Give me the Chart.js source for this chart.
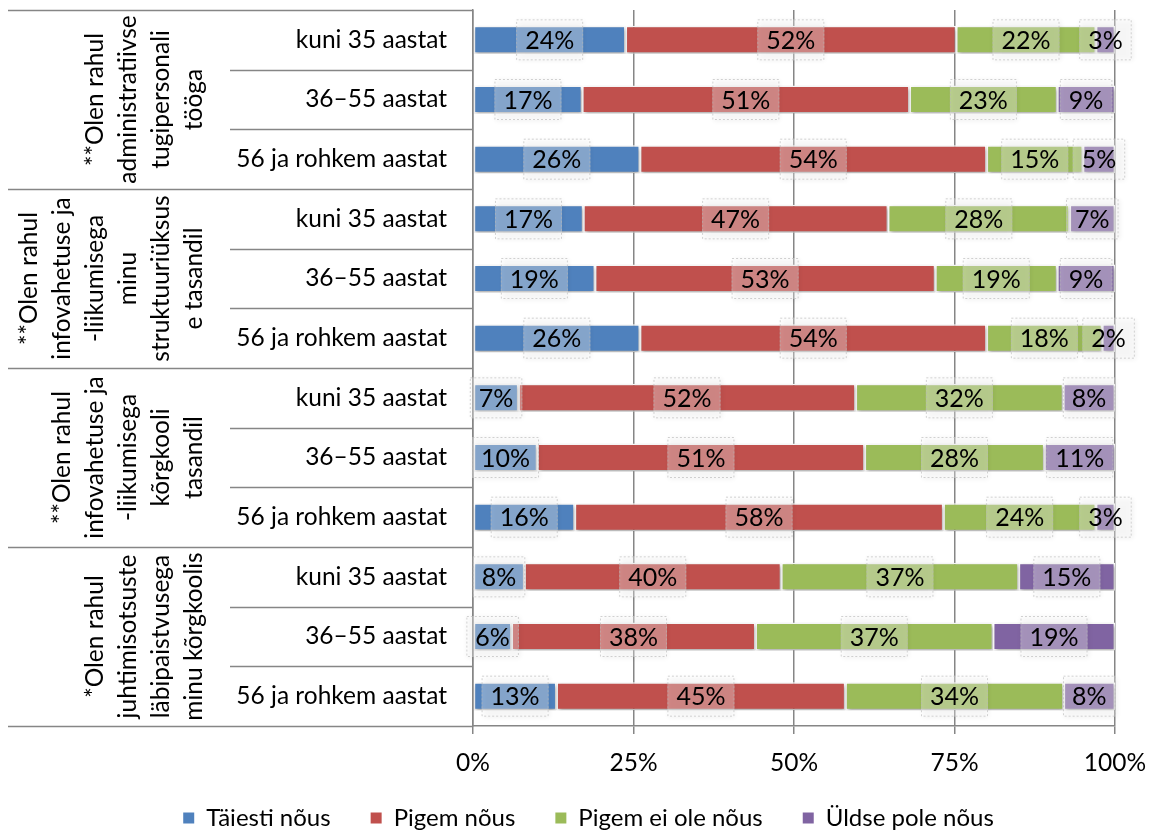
<!DOCTYPE html>
<html>
<head>
<meta charset="utf-8">
<script src="https://cdn.jsdelivr.net/npm/chart.js@4.4.1/dist/chart.umd.min.js"></script>
<style>
  html, body { margin: 0; padding: 0; background: #fff; }
  #wrap { width: 1153px; height: 832px; position: relative; }
</style>
</head>
<body>
<div id="wrap"><canvas id="rahulChart"></canvas></div>
<script>
// age groups, repeated for every statement
const ageGroups = ['kuni 35 aastat', '36–55 aastat', '56 ja rohkem aastat'];
const categories = [].concat(ageGroups, ageGroups, ageGroups, ageGroups);

// rotated statement labels, one line per entry
const groupLabels = [
  ['**Olen rahul', 'administratiivse', 'tugipersonali', 'tööga'],
  ['**Olen rahul', 'infovahetuse ja', '-liikumisega', 'minu', 'struktuuriüksus', 'e tasandil'],
  ['**Olen rahul', 'infovahetuse ja', '-liikumisega', 'kõrgkooli', 'tasandil'],
  ['*Olen rahul', 'juhtimisotsuste', 'läbipaistvusega', 'minu kõrgkoolis']
];

const seriesNames = ['Täiesti nõus', 'Pigem nõus', 'Pigem ei ole nõus', 'Üldse pole nõus'];
const seriesColors = ['#4F81BD', '#C0504D', '#9BBB59', '#8064A2'];

// shares in percent, as printed on the bars
const taiestiNous = [24, 17, 26, 17, 19, 26, 7, 10, 16, 8, 6, 13];
const pigemNous = [52, 51, 54, 47, 53, 54, 52, 51, 58, 40, 38, 45];
const pigemEiOleNous = [22, 23, 15, 28, 19, 18, 32, 28, 24, 37, 37, 34];
const uldsePoleNous = [3, 9, 5, 7, 9, 2, 8, 11, 3, 15, 19, 8];

const xTickLabels = ['0%', '25%', '50%', '75%', '100%'];

const FONT = 'Lato, "Open Sans", sans-serif';
const LINE_COLOR = '#868686';

const allSeries = [taiestiNous, pigemNous, pigemEiOleNous, uldsePoleNous];

// 100% stacked: each row is scaled to its own total, like the original
const rowTotals = categories.map((c, i) =>
  allSeries.reduce((sum, s) => sum + s[i], 0)
);

const datasets = allSeries.map((values, k) => ({
  label: seriesNames[k],
  data: values.map((v, i) => (v / rowTotals[i]) * 100),
  rawValues: values,
  backgroundColor: seriesColors[k],
  borderColor: '#ffffff',
  borderWidth: 1.5,
  borderSkipped: false,
  barPercentage: 0.47,
  categoryPercentage: 1,
}));

// soft drop shadow under bars
const barShadow = {
  id: 'barShadow',
  beforeDatasetsDraw(chart) {
    const ctx = chart.ctx;
    ctx.save();
    ctx.shadowColor = 'rgba(0,0,0,0.35)';
    ctx.shadowBlur = 4;
    ctx.shadowOffsetX = 1;
    ctx.shadowOffsetY = 2;
  },
  afterDatasetsDraw(chart) {
    chart.ctx.restore();
  },
};

// value boxes in the middle of every segment
const valueBoxes = {
  id: 'valueBoxes',
  afterDatasetsDraw(chart) {
    const ctx = chart.ctx;
    ctx.save();
    ctx.font = '25px ' + FONT;
    ctx.textAlign = 'center';
    ctx.textBaseline = 'middle';
    chart.data.datasets.forEach((ds, k) => {
      const meta = chart.getDatasetMeta(k);
      meta.data.forEach((bar, i) => {
        const text = ds.rawValues[i] + '%';
        const cx = (bar.x + bar.base) / 2;
        const cy = bar.y;
        const w = ctx.measureText(text).width + 18;
        const h = 41;
        ctx.save();
        ctx.shadowColor = 'rgba(0,0,0,0.18)';
        ctx.shadowBlur = 5;
        ctx.shadowOffsetX = 1;
        ctx.shadowOffsetY = 1;
        ctx.fillStyle = 'rgba(255,255,255,0.32)';
        ctx.fillRect(cx - w / 2, cy - h / 2, w, h);
        ctx.restore();
        ctx.save();
        ctx.strokeStyle = 'rgba(180,180,180,0.6)';
        ctx.lineWidth = 1;
        ctx.setLineDash([2, 2]);
        ctx.strokeRect(cx - w / 2 + 0.5, cy - h / 2 + 0.5, w - 1, h - 1);
        ctx.restore();
        ctx.fillStyle = '#000';
        ctx.fillText(text, cx, cy + 1);
      });
    });
    ctx.restore();
  },
};

// two-level category axis on the left
const groupAxis = {
  id: 'groupAxis',
  afterDraw(chart) {
    const ctx = chart.ctx;
    const area = chart.chartArea;
    const yScale = chart.scales.y;
    const rowH = (area.bottom - area.top) / categories.length;
    ctx.save();
    ctx.strokeStyle = LINE_COLOR;
    ctx.lineWidth = 1.5;
    for (let r = 0; r <= categories.length; r++) {
      const y = Math.round(area.top + r * rowH) + 0.5;
      const x0 = r % 3 === 0 ? 8 : 230;
      ctx.beginPath();
      ctx.moveTo(x0, y);
      ctx.lineTo(area.left, y);
      ctx.stroke();
    }

    ctx.fillStyle = '#000';
    ctx.font = '24.5px ' + FONT;
    ctx.textAlign = 'right';
    ctx.textBaseline = 'middle';
    categories.forEach((c, i) => {
      ctx.fillText(c, 447, yScale.getPixelForValue(i));
    });

    ctx.font = '24.5px ' + FONT;
    ctx.textAlign = 'center';
    groupLabels.forEach((lines, g) => {
      const yc = (yScale.getPixelForValue(g * 3) + yScale.getPixelForValue(g * 3 + 2)) / 2;
      lines.forEach((line, j) => {
        const x = 194 - (lines.length - 1 - j) * 33;
        ctx.save();
        ctx.translate(x, yc);
        ctx.rotate(-Math.PI / 2);
        ctx.fillText(line, 0, 0);
        ctx.restore();
      });
    });
    ctx.restore();
  },
};

const ctx = document.getElementById('rahulChart');
const myChart = new Chart(ctx, {
  type: 'bar',
  data: {
    labels: categories,
    datasets: datasets,
  },
  options: {
    indexAxis: 'y',
    responsive: true,
    maintainAspectRatio: false,
    animation: false,
    layout: {
      padding: { top: 10, left: 62, right: 38, bottom: -8 },
    },
    scales: {
      x: {
        stacked: true,
        min: 0,
        max: 100,
        ticks: {
          stepSize: 25,
          color: '#000',
          font: { family: FONT, size: 24.5 },
          padding: 14,
          callback: (value, index) => xTickLabels[index],
        },
        grid: {
          color: LINE_COLOR,
          lineWidth: 1.5,
          tickLength: 8,
        },
        border: { color: LINE_COLOR, width: 1.5 },
        afterFit: (scale) => {
          scale.height = 40;
          scale.paddingLeft = 0;
          scale.paddingRight = 0;
          // keep tick labels from being clipped to the short axis box
          scale._computeLabelArea = () => undefined;
        },
      },
      y: {
        stacked: true,
        ticks: { display: false },
        grid: { display: false },
        border: { display: true, color: LINE_COLOR, width: 1.5 },
        afterFit: (scale) => {
          scale.width = 411;
        },
      },
    },
    plugins: {
      legend: {
        position: 'bottom',
        labels: {
          boxWidth: 11,
          boxHeight: 11,
          padding: 40,
          color: '#000',
          font: { family: FONT, size: 24 },
          generateLabels: (chart) =>
            Chart.defaults.plugins.legend.labels.generateLabels(chart).map((item) => {
              item.lineWidth = 0;
              item.strokeStyle = item.fillStyle;
              return item;
            }),
        },
      },
      tooltip: { enabled: false },
    },
  },
  plugins: [barShadow, valueBoxes, groupAxis],
});
</script>
</body>
</html>
